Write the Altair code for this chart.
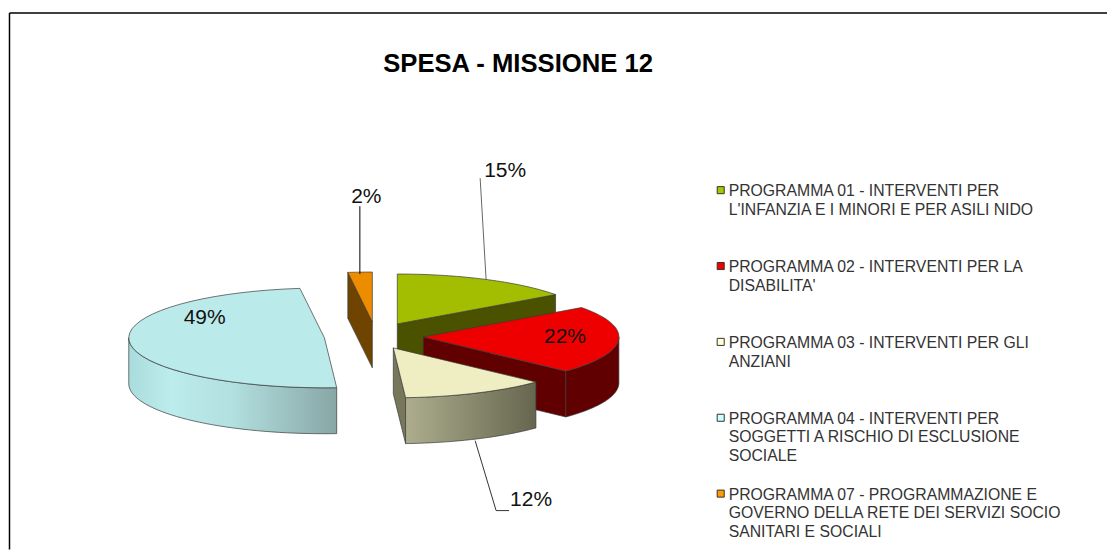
import numpy as np
import pandas as pd
import altair as alt

# --- chart content -------------------------------------------------------
title_text = "SPESA - MISSIONE 12"
shares = [15, 22, 12, 49, 2]
share_labels = ["15%", "22%", "12%", "49%", "2%"]
legend_labels = [
    "PROGRAMMA 01 - INTERVENTI PER\nL'INFANZIA E I MINORI E PER ASILI NIDO",
    "PROGRAMMA 02 - INTERVENTI PER LA\nDISABILITA'",
    "PROGRAMMA 03 - INTERVENTI PER GLI\nANZIANI",
    "PROGRAMMA 04 - INTERVENTI PER\nSOGGETTI A RISCHIO DI ESCLUSIONE\nSOCIALE",
    "PROGRAMMA 07 - PROGRAMMAZIONE E\nGOVERNO DELLA RETE DEI SERVIZI SOCIO\nSANITARI E SOCIALI",
]
top_colors = ["#a3bd00", "#ee0000", "#eeeec2", "#bbeaea", "#ee8c00"]
legend_colors = ["#a6c800", "#ee0000", "#ffffd0", "#ccffff", "#ff9a00"]

# --- layout of the exploded 3-D pie --------------------------------------
W, H = 1100, 542
apex = [(397, 324), (423, 337), (393, 348), (324, 338), (372, 322)]
A, B, DEPTH = 196.0, 50.0, 46.0
legend_y = [184, 260, 336, 412, 488]
legend_x = 729
label_pos = [(505, 171), (565, 337), (531, 500), (204, 318), (366, 197)]

x_scale = alt.Scale(domain=[8, 8 + W], range=[0, W])
y_scale = alt.Scale(domain=[8, 8 + H], range=[0, H])
xs = alt.X("x:Q", scale=x_scale, axis=None)
ys = alt.Y("y:Q", scale=y_scale, axis=None)


def pt(i, ang, dz=0.0):
    r = np.radians(ang)
    return apex[i][0] + A * np.sin(r), apex[i][1] - B * np.cos(r) + dz


def arc(i, a0, a1, dz=0.0, n=40):
    ang = np.linspace(a0, a1, n)
    px, py = pt(i, ang, dz)
    return list(zip(px, py))


def poly(points, fill, stroke="#3a3a3a", sw=0.7):
    pts = list(points) + [points[0]]
    df = pd.DataFrame(pts, columns=["x", "y"])
    df["o"] = range(len(df))
    return (
        alt.Chart(df)
        .mark_line(fill=fill, stroke=stroke, strokeWidth=sw, strokeJoin="round")
        .encode(x=xs, y=ys, order="o:Q")
    )


def grad(stops):
    return alt.Gradient(
        gradient="linear", x1=0, x2=1, y1=0, y2=0,
        stops=[alt.GradientStop(offset=o, color=c) for o, c in stops],
    )


def wall(i, a0, a1, fill):
    return poly(arc(i, a0, a1) + arc(i, a1, a0, DEPTH), fill)


def cut(i, ang, fill):
    p = pt(i, ang)
    return poly(
        [apex[i], p, (p[0], p[1] + DEPTH), (apex[i][0], apex[i][1] + DEPTH)], fill
    )


def top(i, a0, a1):
    return poly([apex[i]] + arc(i, a0, a1), top_colors[i])


cum = np.cumsum([0] + shares) / sum(shares) * 360.0
a = list(zip(cum[:-1], cum[1:]))

layers = []
# green slice (back)
layers += [cut(0, a[0][1], "#4a5200"), top(0, *a[0])]
# orange slice
layers += [cut(4, a[4][0], "#6e4400"), top(4, *a[4])]
# red slice: the outer wall is visible from the rightmost point onwards
layers += [cut(1, a[1][1], "#600000"), wall(1, 90, a[1][1], "#600000"), top(1, *a[1])]
# cream slice
layers += [
    cut(2, a[2][1], "#77775c"),
    wall(2, a[2][0], a[2][1], grad([(0, "#adad8e"), (1, "#66664f")])),
    top(2, *a[2]),
]
# pale blue slice: light on the left, darker towards the front cut
layers += [
    wall(3, a[3][0], 270, grad([(0, "#a9dcdc"), (0.2, "#bdecec"), (0.5, "#b2dfdf"), (1, "#88a6a6")])),
    top(3, *a[3]),
]

# leader lines
leaders = [
    [(480, 178), (486, 280)],
    [(359.5, 206), (359.5, 274)],
    [(475, 441), (496, 511), (509, 511)],
]
for seg, col in zip(leaders, ["#666666", "#000000", "#333333"]):
    df = pd.DataFrame(seg, columns=["x", "y"])
    df["o"] = range(len(df))
    layers.append(
        alt.Chart(df).mark_line(stroke=col, strokeWidth=1).encode(x=xs, y=ys, order="o:Q")
    )

# percentage labels
lab = pd.DataFrame(
    {
        "x": [p[0] for p in label_pos],
        "y": [p[1] for p in label_pos],
        "t": share_labels,
    }
)
layers.append(
    alt.Chart(lab)
    .mark_text(font="Liberation Sans", fontSize=21, color="#111111", baseline="middle")
    .encode(x=xs, y=ys, text="t:N")
)

# title
ttl = pd.DataFrame({"x": [518], "y": [64], "t": [title_text]})
layers.append(
    alt.Chart(ttl)
    .mark_text(font="Liberation Sans", fontSize=25.7, fontWeight="bold", color="#000000", baseline="middle")
    .encode(x=xs, y=ys, text="t:N")
)

# legend
leg = pd.DataFrame(
    {
        "x": [legend_x] * 5,
        "y": legend_y,
        "sx": [721] * 5,
        "sy": [v + 6 for v in legend_y],
        "t": legend_labels,
        "c": legend_colors,
    }
)
layers.append(
    alt.Chart(leg)
    .mark_text(
        font="Liberation Sans", fontSize=15.8, color="#333333", align="left",
        baseline="top", lineBreak="\n", lineHeight=18.7,
    )
    .encode(x=xs, y=ys, text="t:N")
)
layers.append(
    alt.Chart(leg)
    .mark_point(shape="square", filled=True, size=50, stroke="#333333", strokeWidth=1, opacity=1)
    .encode(
        x=alt.X("sx:Q", scale=x_scale, axis=None),
        y=alt.Y("sy:Q", scale=y_scale, axis=None),
        fill=alt.Fill("c:N", scale=None),
    )
)

# frame: top and left edges only
layers.append(
    alt.Chart(pd.DataFrame({"a": [0]})).mark_rule(color="#000000", strokeWidth=1.5)
    .encode(x=alt.value(0.5), x2=alt.value(W), y=alt.value(4.5))
)
layers.append(
    alt.Chart(pd.DataFrame({"a": [0]})).mark_rule(color="#000000", strokeWidth=1.5)
    .encode(x=alt.value(0.5), y=alt.value(4.5), y2=alt.value(H))
)

chart = (
    alt.layer(*layers)
    .properties(width=W, height=H, padding=0, background="white")
    .configure_view(stroke=None)
)
chart.save("out.html", embed_options={"renderer": "svg", "actions": False})
